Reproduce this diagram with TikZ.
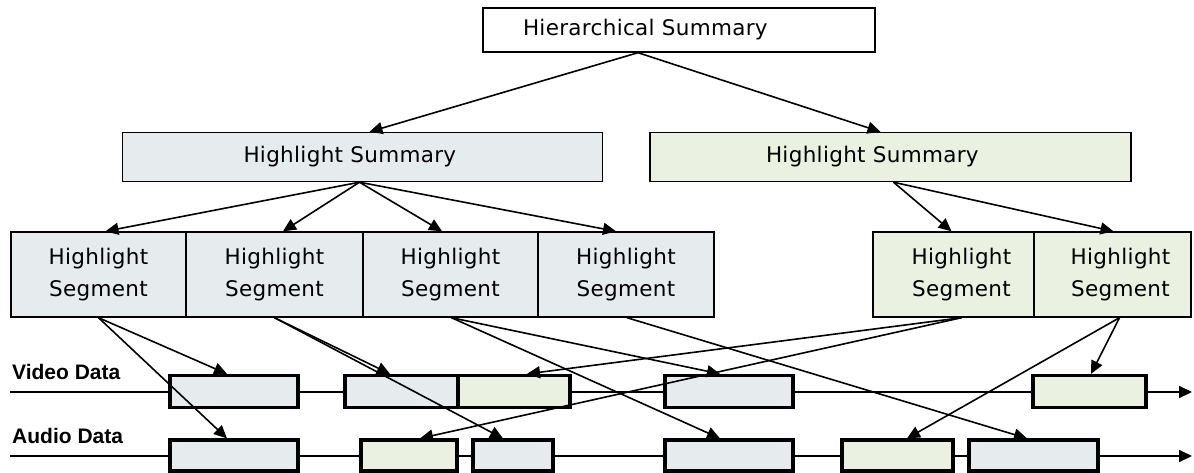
\documentclass[tikz,border=0pt]{standalone}
\usepackage{fontspec}
\setmainfont{DejaVu Sans}[LetterSpace=1.5]
\newfontfamily\trackfont{Liberation Sans}
\usetikzlibrary{arrows.meta}

\definecolor{cellgrey}{RGB}{230,235,237}
\definecolor{cellgreen}{RGB}{234,241,225}

\tikzset{
  box/.style={draw=black, line width=1.4pt, inner sep=0pt, align=center,
    font=\fontsize{21.5}{32}\selectfont},
  topbox/.style={box, fill=white, minimum width=392pt, minimum height=44pt},
  sumbox/.style={box, minimum height=49pt},
  segbox/.style={box, minimum height=85pt},
  databox/.style={draw=black, line width=3.2pt, inner sep=0pt},
  vbox/.style={databox, minimum height=32pt},
  abox/.style={databox, minimum height=31pt},
  link/.style={draw=black, line width=1.6pt,
    -{Triangle[length=13pt,width=12pt]}},
  track/.style={draw=black, line width=2pt,
    -{Triangle[length=13pt,width=12pt]}},
  tracklabel/.style={anchor=base west, inner sep=0pt,
    font=\trackfont\bfseries\fontsize{21}{24}\selectfont}
}

\begin{document}
\begin{tikzpicture}[x=1pt,y=-1pt]
\useasboundingbox (0,0) rectangle (1194,472);

% summary tree (text set left-aligned inside the wide boxes)
\node[topbox, align=left, inner xsep=40pt, text width=312pt] (top) at (679,30) {Hierarchical Summary};
\node[sumbox, fill=cellgrey, align=left, inner xsep=121pt, text width=238pt] (sumL) at (362.5,157) {Highlight Summary};
\node[sumbox, fill=cellgreen, align=left, inner xsep=116pt, text width=249pt] (sumR) at (890.5,157) {Highlight Summary};

\node[segbox, fill=cellgrey, minimum width=175pt] (seg1) at (98.5,274.5) {Highlight\\Segment};
\node[segbox, fill=cellgrey, minimum width=177pt] (seg2) at (274.5,274.5) {Highlight\\Segment};
\node[segbox, fill=cellgrey, minimum width=175pt] (seg3) at (450.5,274.5) {Highlight\\Segment};
\node[segbox, fill=cellgrey, minimum width=176pt] (seg4) at (626,274.5) {Highlight\\Segment};
\node[segbox, fill=cellgreen, minimum width=161pt] (rseg1) at (953.5,274.5)
  {\hspace*{16pt}Highlight\\\hspace*{16pt}Segment};
\node[segbox, fill=cellgreen, minimum width=157pt] (rseg2) at (1112.5,274.5)
  {\hspace*{16pt}Highlight\\\hspace*{16pt}Segment};

% data tracks
\node[tracklabel] (vlab) at (12,379) {Video Data};
\node[tracklabel] (alab) at (12,443) {Audio Data};
\coordinate (vstart) at (10,392);
\coordinate (vend)   at (1192,392);
\coordinate (astart) at (10,456);
\coordinate (aend)   at (1192,456);
\draw[track] (vstart) -- (vend);
\draw[track] (astart) -- (aend);

% video segments
\node[vbox, fill=cellgrey,  minimum width=128pt] (v1) at (234,391.5) {};
\node[vbox, fill=cellgrey,  minimum width=113pt] (v2) at (401.5,391.5) {};
\node[vbox, fill=cellgreen, minimum width=112pt] (v3) at (514,391.5) {};
\node[vbox, fill=cellgrey,  minimum width=128pt] (v4) at (729,391.5) {};
\node[vbox, fill=cellgreen, minimum width=113pt] (v5) at (1089.5,391.5) {};

% audio segments
\node[abox, fill=cellgrey,  minimum width=128pt] (a1) at (234,455.5) {};
\node[abox, fill=cellgreen, minimum width=96pt]  (a2) at (409,455.5) {};
\node[abox, fill=cellgrey,  minimum width=80pt]  (a3) at (513,455.5) {};
\node[abox, fill=cellgrey,  minimum width=128pt] (a4) at (729,455.5) {};
\node[abox, fill=cellgreen, minimum width=111pt] (a5) at (897.5,455.5) {};
\node[abox, fill=cellgrey,  minimum width=129pt] (a6) at (1033.5,455.5) {};

% tree links
\draw[link] ([xshift=-41pt]top.south) -- ([xshift=7pt]sumL.north);
\draw[link] ([xshift=-41pt]top.south) -- ([xshift=-10pt]sumR.north);
\draw[link] ([xshift=-3pt]sumL.south) -- ([xshift=7pt]seg1.north);
\draw[link] ([xshift=-3pt]sumL.south) -- ([xshift=8.5pt]seg2.north);
\draw[link] ([xshift=-3pt]sumL.south) -- ([xshift=-8.5pt]seg3.north);
\draw[link] ([xshift=-3pt]sumL.south) -- ([xshift=-10pt]seg4.north);
\draw[link] ([xshift=3pt]sumR.south) -- ([xshift=-2pt]rseg1.north);
\draw[link] ([xshift=3pt]sumR.south) -- ([xshift=1pt]rseg2.north);

% segment-to-data links
\draw[link] (seg1.south) -- ([xshift=-7pt]v1.north);
\draw[link] (seg1.south) -- ([xshift=-7pt]a1.north);
\draw[link] (seg2.south) -- ([xshift=-11.5pt]v2.north);
\draw[link] (seg2.south) -- ([xshift=-10pt]a3.north);
\draw[link] ([xshift=1pt]seg3.south) -- ([xshift=-9pt]v4.north);
\draw[link] ([xshift=1pt]seg3.south) -- ([xshift=-9pt]a4.north);
\draw[link] ([xshift=1pt]seg4.south) -- ([xshift=-6.5pt]a6.north);
\draw[link] ([xshift=8pt]rseg1.south) -- ([xshift=13pt]v3.north);
\draw[link] ([xshift=8pt]rseg1.south) -- ([xshift=11pt]a2.north);
\draw[link] ([xshift=7pt]rseg2.south) -- ([xshift=1.5pt]v5.north);
\draw[link] ([xshift=7pt]rseg2.south) -- ([xshift=9.5pt]a5.north);
\end{tikzpicture}
\end{document}
